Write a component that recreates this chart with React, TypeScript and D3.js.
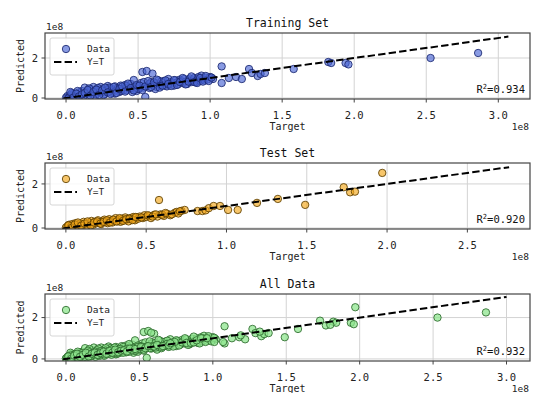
import React from "react"
import * as d3 from "d3"

// values in units of 1e8
const trainTarget = [
  0.00, 0.01, 0.02, 0.03, 0.04, 0.05, 0.06, 0.07, 0.08, 0.09, 0.10, 0.11, 0.12, 0.13, 0.14, 0.15,
  0.16, 0.17, 0.18, 0.19, 0.20, 0.21, 0.22, 0.23, 0.24, 0.25, 0.26, 0.27, 0.28, 0.29, 0.30, 0.31,
  0.32, 0.33, 0.34, 0.35, 0.36, 0.37, 0.38, 0.39, 0.40, 0.41, 0.42, 0.43, 0.44, 0.45, 0.46, 0.47,
  0.48, 0.49, 0.50, 0.51, 0.52, 0.53, 0.54, 0.55, 0.56, 0.57, 0.58, 0.59, 0.60, 0.61, 0.62, 0.63,
  0.64, 0.65, 0.66, 0.67, 0.68, 0.69, 0.70, 0.71, 0.72, 0.73, 0.74, 0.75, 0.76, 0.77, 0.78, 0.79,
  0.80, 0.81, 0.82, 0.83, 0.84, 0.85, 0.86, 0.87, 0.88, 0.89, 0.90, 0.91, 0.92, 0.93, 0.94, 0.95,
  0.96, 0.97, 0.98, 1.00, 1.02, 1.08, 1.08, 1.13, 1.18, 1.22, 1.27, 1.29, 1.33, 1.35, 1.38, 1.58,
  1.82, 1.84, 1.94, 1.96, 2.53, 2.86,
  0.02, 0.04, 0.06, 0.08, 0.12, 0.16, 0.20, 0.22, 0.26, 0.30, 0.34, 0.38, 0.42, 0.46, 0.50, 0.54,
  0.58, 0.62, 0.66, 0.70,
  0.03, 0.05, 0.07, 0.09, 0.11, 0.13, 0.15, 0.17, 0.19, 0.21, 0.23, 0.25, 0.27, 0.29, 0.31, 0.33,
  0.35, 0.37, 0.39, 0.41, 0.43, 0.45, 0.47, 0.49, 0.51, 0.53, 0.55, 0.57, 0.59, 0.61, 0.63, 0.65,
  0.67, 0.69, 0.71, 0.73, 0.75, 0.77, 0.79, 0.81, 0.83, 0.85, 0.87, 0.89, 0.91, 0.93, 0.95, 0.97,
  0.99, 1.01,
]
const trainPredicted = [
  0.02, 0.10, 0.05, 0.15, 0.08, 0.20, 0.12, 0.05, 0.18, 0.28, 0.15, 0.35, 0.20, 0.52, 0.30, 0.10,
  0.25, 0.45, 0.22, 0.55, 0.35, 0.18, 0.40, 0.30, 0.55, 0.28, 0.45, 0.20, 0.38, 0.60, 0.33, 0.48,
  0.25, 0.42, 0.58, 0.37, 0.50, 0.30, 0.62, 0.45, 0.40, 0.65, 0.38, 0.52, 0.47, 0.70, 0.42, 0.90,
  0.55, 0.35, 0.60, 0.48, 0.75, 1.30, 0.52, 0.05, 1.35, 0.65, 0.50, 0.80, 1.22, 0.62, 0.70, 0.55,
  0.88, 0.68, 0.60, 0.75, 0.85, 0.62, 0.72, 0.95, 0.68, 0.80, 0.75, 0.62, 0.88, 0.78, 0.70, 0.92,
  0.85, 0.75, 0.95, 0.82, 0.70, 0.90, 0.98, 0.80, 0.88, 1.00, 0.78, 0.92, 1.05, 0.85, 1.12, 0.95,
  0.88, 1.02, 0.92, 1.05, 0.95, 1.58, 0.75, 1.00, 1.05, 0.95, 1.45, 1.25, 1.10, 1.20, 1.25, 1.45,
  1.80, 1.75, 1.75, 1.68, 2.00, 2.25,
  0.00, 0.25, 0.02, 0.35, 0.08, 0.48, 0.10, 0.50, 0.15, 0.52, 0.22, 0.35, 0.60, 0.30, 0.45, 0.80,
  0.72, 0.45, 0.82, 0.58,
  0.30, 0.02, 0.22, 0.08, 0.18, 0.25, 0.40, 0.12, 0.30, 0.42, 0.15, 0.38, 0.52, 0.28, 0.20, 0.55,
  0.25, 0.45, 0.58, 0.32, 0.72, 0.50, 0.38, 0.65, 0.62, 0.40, 0.58, 0.85, 0.55, 0.78, 0.92, 0.52,
  0.62, 0.88, 0.70, 0.60, 0.90, 0.65, 0.80, 1.00, 0.68, 0.82, 1.08, 0.80, 0.75, 1.00, 0.82, 1.10,
  0.85, 1.02,
]

const testTarget = [
  0.00, 0.01, 0.02, 0.03, 0.04, 0.05, 0.06, 0.07, 0.08, 0.09, 0.10, 0.11, 0.12, 0.13, 0.14, 0.15,
  0.16, 0.17, 0.18, 0.19, 0.20, 0.21, 0.22, 0.23, 0.24, 0.25, 0.26, 0.27, 0.28, 0.29, 0.30, 0.31,
  0.32, 0.33, 0.34, 0.35, 0.36, 0.37, 0.38, 0.39, 0.40, 0.41, 0.42, 0.43, 0.44, 0.45, 0.46, 0.48,
  0.49, 0.50, 0.52, 0.53, 0.55, 0.57, 0.58, 0.59, 0.61, 0.63, 0.65, 0.68, 0.69, 0.72, 0.74, 0.82,
  0.85, 0.87, 0.89, 0.92, 0.96, 1.01, 1.07, 1.19, 1.32, 1.49, 1.73, 1.77, 1.80, 1.97,
  0.015, 0.035, 0.055, 0.075, 0.095, 0.115, 0.135, 0.155, 0.175, 0.195, 0.215, 0.235, 0.255, 0.275,
  0.295, 0.315, 0.335, 0.355, 0.375, 0.395, 0.415, 0.435, 0.47, 0.51, 0.54, 0.56, 0.60, 0.62, 0.66,
  0.70, 0.71,
]
const testPredicted = [
  0.02, 0.08, 0.15, 0.05, 0.18, 0.10, 0.22, 0.12, 0.05, 0.20, 0.15, 0.28, 0.18, 0.10, 0.25, 0.20,
  0.32, 0.15, 0.28, 0.22, 0.35, 0.25, 0.18, 0.30, 0.38, 0.28, 0.22, 0.40, 0.32, 0.25, 0.35, 0.45,
  0.30, 0.38, 0.28, 0.42, 0.35, 0.48, 0.38, 0.30, 0.45, 0.40, 0.50, 0.35, 0.48, 0.42, 0.52, 0.45,
  0.58, 0.50, 0.55, 0.45, 0.60, 0.52, 1.27, 0.62, 0.55, 0.65, 0.58, 0.70, 0.73, 0.78, 0.82, 0.77,
  0.77, 0.80, 0.90, 1.00, 1.00, 0.82, 0.82, 1.14, 1.32, 1.05, 1.85, 1.62, 1.65, 2.50,
  0.12, 0.00, 0.16, 0.25, 0.10, 0.20, 0.30, 0.12, 0.25, 0.30, 0.20, 0.28, 0.35, 0.25,
  0.38, 0.30, 0.45, 0.32, 0.40, 0.42, 0.36, 0.50, 0.48, 0.58, 0.52, 0.62, 0.60, 0.68, 0.62,
  0.66, 0.76,
]

const titles = ["Training Set", "Test Set", "All Data"]
const r2Labels = ["0.934", "0.920", "0.932"]
const xTickValues = [
  [0, 0.5, 1.0, 1.5, 2.0, 2.5, 3.0],
  [0, 0.5, 1.0, 1.5, 2.0, 2.5],
  [0, 0.5, 1.0, 1.5, 2.0, 2.5, 3.0],
]
const yTickValues = [0, 2]
const lineEnds = [3.07, 2.76, 3.0]

const toPoints = (t: number[], p: number[]) => t.map((v, i) => [v, p[i]] as [number, number])
const seriesData = [
  toPoints(trainTarget, trainPredicted),
  toPoints(testTarget, testPredicted),
  toPoints(trainTarget.concat(testTarget), trainPredicted.concat(testPredicted)),
]

const panels = [
  {top: 33, bottom: 99, xd: [-0.146, 3.22], yd: [-0.05, 3.25], fill: "#4a66d4", edge: "#1b2870", op: 0.65},
  {top: 163, bottom: 229, xd: [-0.13, 2.89], yd: [-0.045, 2.95], fill: "#f2a81c", edge: "#5e4000", op: 0.65},
  {top: 294, bottom: 361, xd: [-0.143, 3.16], yd: [-0.1, 3.14], fill: "#8fe68f", edge: "#2d6a2d", op: 0.75},
]

const left = 45, right = 530
const font = "'DejaVu Sans Mono', monospace"

const Panel = ({i}: {i: number}) => {
  const cfg = panels[i]
  const x = d3.scaleLinear().domain(cfg.xd).range([left, right])
  const y = d3.scaleLinear().domain(cfg.yd).range([cfg.bottom, cfg.top])
  const data = seriesData[i]
  const line = d3.line<[number, number]>().x(d => x(d[0])).y(d => y(d[1]))
  const lg = cfg.top + 5
  return (
    <g>
      <defs>
        <clipPath id={"clip" + i}>
          <rect x={left} y={cfg.top} width={right - left} height={cfg.bottom - cfg.top} />
        </clipPath>
      </defs>
      {xTickValues[i].map(v => (
        <line key={"gx" + v} x1={x(v)} x2={x(v)} y1={cfg.top} y2={cfg.bottom} stroke="#d3d3d3" strokeWidth={1} />
      ))}
      {yTickValues.map(v => (
        <line key={"gy" + v} x1={left} x2={right} y1={y(v)} y2={y(v)} stroke="#d3d3d3" strokeWidth={1} />
      ))}
      <g clipPath={`url(#clip${i})`}>
        {data.map((d, k) => (
          <circle key={k} cx={x(d[0])} cy={y(d[1])} r={3.7}
            fill={cfg.fill} fillOpacity={cfg.op} stroke={cfg.edge} strokeOpacity={0.85} strokeWidth={1} />
        ))}
        <path d={line([[-0.02, -0.02], [lineEnds[i], lineEnds[i]]]) || ""} stroke="#000" strokeWidth={2}
          strokeDasharray="7.4,3.2" fill="none" />
      </g>
      <rect x={left} y={cfg.top} width={right - left} height={cfg.bottom - cfg.top} fill="none" stroke="#444" strokeWidth={1.2} />
      {xTickValues[i].map(v => (
        <g key={"tx" + v}>
          <line x1={x(v)} x2={x(v)} y1={cfg.bottom} y2={cfg.bottom + 3.5} stroke="#444" />
          <text x={x(v)} y={cfg.bottom + 19.5} textAnchor="middle" fontSize={10.5} fontFamily={font} fill="#222">
            {d3.format(".1f")(v)}
          </text>
        </g>
      ))}
      {yTickValues.map(v => (
        <g key={"ty" + v}>
          <line x1={left - 3.5} x2={left} y1={y(v)} y2={y(v)} stroke="#444" />
          <text x={38} y={y(v) + 3.8} textAnchor="end" fontSize={10.5} fontFamily={font} fill="#222">{v}</text>
        </g>
      ))}
      <text x={(left + right) / 2} y={cfg.top - 6} textAnchor="middle" fontSize={11.5} fontFamily={font} fill="#111">
        {titles[i]}
      </text>
      <text x={left + 1} y={cfg.top - 3} fontSize={9.5} fontFamily={font} fill="#222">1e8</text>
      <text x={right - 1} y={cfg.bottom + 31} textAnchor="end" fontSize={9.5} fontFamily={font} fill="#222">1e8</text>
      <text x={(left + right) / 2} y={cfg.bottom + 31} textAnchor="middle" fontSize={10} fontFamily={font} fill="#222">
        Target
      </text>
      <text transform={`translate(24,${(cfg.top + cfg.bottom) / 2}) rotate(-90)`} textAnchor="middle"
        fontSize={10} fontFamily={font} fill="#222">Predicted</text>
      <text x={right - 5} y={cfg.bottom - 6} textAnchor="end" fontSize={10.5} fontFamily={font} fill="#111">
        R<tspan fontSize={7} dy={-4}>2</tspan><tspan dy={4}>={r2Labels[i]}</tspan>
      </text>
      <rect x={50} y={lg} width={64} height={37} rx={2} fill="#fff" fillOpacity={0.85} stroke="#ccc" strokeWidth={0.8} />
      <circle cx={66} cy={lg + 11} r={3.7} fill={cfg.fill} fillOpacity={cfg.op} stroke={cfg.edge} strokeOpacity={0.85} strokeWidth={1} />
      <text x={87} y={lg + 14} fontSize={9.5} fontFamily={font} fill="#222">Data</text>
      <line x1={54} x2={77} y1={lg + 24} y2={lg + 24} stroke="#000" strokeWidth={2} strokeDasharray="7.4,3.2" />
      <text x={87} y={lg + 27} fontSize={9.5} fontFamily={font} fill="#222">Y=T</text>
    </g>
  )
}

export default function App() {
  return (
    <svg width={533} height={393} style={{position: "absolute", left: 0, top: 0, background: "#fff"}}>
      <rect width={533} height={393} fill="#fff" />
      {panels.map((_, i) => <Panel key={i} i={i} />)}
    </svg>
  )
}
